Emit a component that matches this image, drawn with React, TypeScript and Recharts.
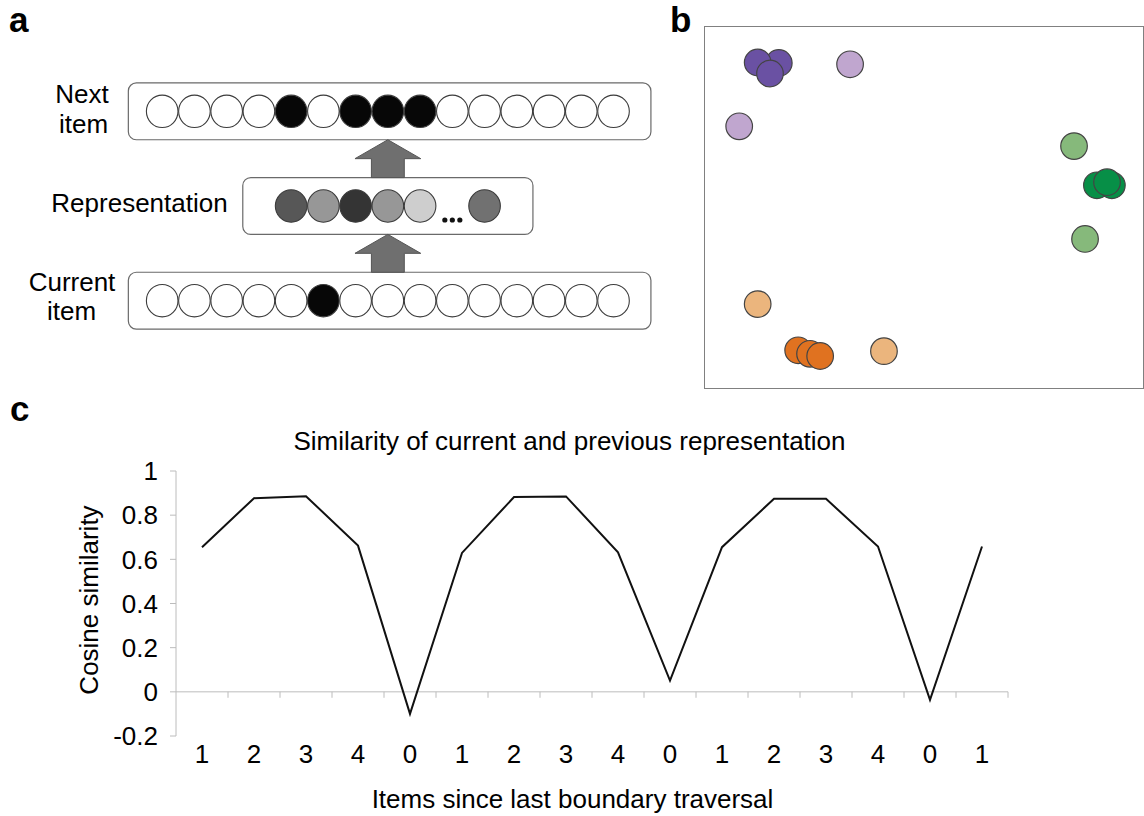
import React from 'react';
import {
  Line,
  LineChart,
  ReferenceArea,
  ReferenceLine,
  Scatter,
  ScatterChart,
  XAxis,
  YAxis,
} from 'recharts';

const FONT = '"Liberation Sans", Arial, Helvetica, sans-serif';

// ---- panel a: network diagram (slot index on x, layer on y) ----
const nextItem = [0, 0, 0, 0, 1, 0, 1, 1, 1, 0, 0, 0, 0, 0, 0];
const currentItem = [0, 0, 0, 0, 0, 1, 0, 0, 0, 0, 0, 0, 0, 0, 0];
const repSlots = [4, 5, 6, 7, 8, 10];
const repShades = ['#575757', '#979797', '#343434', '#979797', '#cecece', '#717171'];
const ellipsisSlot = 9;
const LAYER_NEXT = 2;
const LAYER_REP = 1;
const LAYER_CUR = 0;
const arrowSlot = 7;

// ---- panel b: 2D embedding, six groups ----
const darkPurple = [
  { x: 17.0, y: 74.1 },
  { x: 12.2, y: 74.2 },
  { x: 15.0, y: 71.7 },
];
const lightPurple = [
  { x: 33.2, y: 73.8 },
  { x: 8.0, y: 59.7 },
];
const lightGreen = [
  { x: 84.1, y: 55.2 },
  { x: 86.6, y: 34.1 },
];
const darkGreen = [
  { x: 89.3, y: 46.3 },
  { x: 92.7, y: 46.3 },
  { x: 91.6, y: 47.0 },
];
const lightOrange = [
  { x: 12.2, y: 19.3 },
  { x: 40.9, y: 8.6 },
];
const darkOrange = [
  { x: 21.4, y: 8.8 },
  { x: 24.1, y: 8.0 },
  { x: 26.4, y: 7.5 },
];

// ---- panel c: cosine similarity ----
const xLabels = ['1', '2', '3', '4', '0', '1', '2', '3', '4', '0', '1', '2', '3', '4', '0', '1'];
const similarity = [
  0.655, 0.877, 0.886, 0.662, -0.1, 0.629, 0.882, 0.885, 0.632, 0.051, 0.655, 0.874, 0.874,
  0.658, -0.036, 0.658,
];
const yTicks = [-0.2, 0, 0.2, 0.4, 0.6, 0.8, 1];

const AXIS_GRAY = '#bcbcbc';

function Bead(props: any) {
  const { cx, cy, payload } = props;
  if (cx == null || cy == null) return null;
  return (
    <ellipse cx={cx} cy={cy} rx={15.8} ry={16.2} fill={payload.fill} stroke="#3c3c3c" strokeWidth={1.1} />
  );
}

function Ellipsis(props: any) {
  const { cx, cy } = props;
  if (cx == null || cy == null) return null;
  return (
    <g fill="#111">
      {[-7.5, 0, 7.5].map((d) => (
        <circle key={d} cx={cx + d} cy={cy + 14} r={2.6} />
      ))}
    </g>
  );
}

function Box(props: any) {
  const { x, y, width, height } = props;
  return <rect x={x} y={y} width={width} height={height} rx={8} ry={8} fill="none" stroke="#6a6a6a" strokeWidth={1.2} />;
}

function Arrow(props: any) {
  const { x, y, width, height } = props;
  const cx = x + width / 2;
  const sw = width / 4;
  const mid = y + height / 2;
  const pts = [
    [cx, y],
    [x + width, mid],
    [cx + sw, mid],
    [cx + sw, y + height],
    [cx - sw, y + height],
    [cx - sw, mid],
    [x, mid],
  ]
    .map((p) => p.join(','))
    .join(' ');
  return <polygon points={pts} fill="#6f6f6f" stroke="#555" strokeWidth={1} />;
}

function Dot(props: any) {
  const { cx, cy, fill } = props;
  if (cx == null || cy == null) return null;
  return <circle cx={cx} cy={cy} r={13.3} fill={fill} stroke="#444" strokeWidth={1.2} />;
}

function DiagramPanel() {
  const nextData = nextItem.map((on, i) => ({ x: i, y: LAYER_NEXT, fill: on ? '#070707' : '#fff' }));
  const curData = currentItem.map((on, i) => ({ x: i, y: LAYER_CUR, fill: on ? '#070707' : '#fff' }));
  const repData = repSlots.map((s, i) => ({ x: s, y: LAYER_REP, fill: repShades[i] }));
  return (
    <ScatterChart width={677} height={284} margin={{ top: 0, right: 0, bottom: 0, left: 0 }}>
      <XAxis type="number" dataKey="x" domain={[-5, 16]} hide allowDataOverflow />
      <YAxis type="number" dataKey="y" domain={[-0.5, 2.5]} hide allowDataOverflow />
      <ReferenceArea x1={-1.05} x2={15.16} y1={LAYER_NEXT - 0.3} y2={LAYER_NEXT + 0.3} shape={Box} />
      <ReferenceArea x1={2.5} x2={11.5} y1={LAYER_REP - 0.3} y2={LAYER_REP + 0.3} shape={Box} />
      <ReferenceArea x1={-1.05} x2={15.16} y1={LAYER_CUR - 0.3} y2={LAYER_CUR + 0.3} shape={Box} />
      <ReferenceArea x1={arrowSlot - 1.02} x2={arrowSlot + 1.02} y1={LAYER_REP + 0.3} y2={LAYER_NEXT - 0.3} shape={Arrow} />
      <ReferenceArea x1={arrowSlot - 1.02} x2={arrowSlot + 1.02} y1={LAYER_CUR + 0.3} y2={LAYER_REP - 0.3} shape={Arrow} />
      <Scatter data={nextData} shape={Bead} isAnimationActive={false} />
      <Scatter data={repData} shape={Bead} isAnimationActive={false} />
      <Scatter data={curData} shape={Bead} isAnimationActive={false} />
      <Scatter data={[{ x: ellipsisSlot, y: LAYER_REP }]} shape={Ellipsis} isAnimationActive={false} />
    </ScatterChart>
  );
}

function EmbeddingPanel() {
  const groups = [
    { data: darkPurple, fill: '#6a51a3' },
    { data: lightPurple, fill: '#c0a6cf' },
    { data: lightGreen, fill: '#86b97b' },
    { data: darkGreen, fill: '#078f47' },
    { data: lightOrange, fill: '#ebb57d' },
    { data: darkOrange, fill: '#e07220' },
  ];
  return (
    <ScatterChart width={440} height={363} margin={{ top: 0, right: 0, bottom: 0, left: 0 }}>
      <XAxis type="number" dataKey="x" domain={[0, 100]} hide allowDataOverflow />
      <YAxis type="number" dataKey="y" domain={[0, 82.5]} hide allowDataOverflow />
      {groups.map((g, i) => (
        <Scatter key={i} data={g.data} fill={g.fill} shape={Dot} isAnimationActive={false} />
      ))}
    </ScatterChart>
  );
}

function SimilarityPanel() {
  const data = similarity.map((v, i) => ({ pos: i + 0.5, v }));
  const boundaries = xLabels.map((_, i) => i + 1);
  const tickStyle = { fontSize: 26, fill: '#000', fontFamily: FONT };
  return (
    <LineChart width={1144} height={416} data={data} margin={{ top: 71, right: 136, bottom: 50, left: 0 }}>
      <XAxis
        type="number"
        dataKey="pos"
        domain={[0, 16]}
        ticks={data.map((d) => d.pos)}
        tickFormatter={(v: number) => xLabels[Math.floor(v)]}
        interval={0}
        axisLine={false}
        tickLine={false}
        height={30}
        tickMargin={3}
        tick={tickStyle}
      />
      <YAxis
        type="number"
        domain={[-0.2, 1]}
        ticks={yTicks}
        interval={0}
        width={176}
        axisLine={{ stroke: AXIS_GRAY }}
        tickLine={{ stroke: AXIS_GRAY }}
        tickSize={6}
        tickMargin={12}
        tickFormatter={(v: number) => String(v)}
        tick={tickStyle}
      />
      <ReferenceLine y={0} stroke={AXIS_GRAY} />
      {boundaries.map((k) => (
        <ReferenceLine key={k} segment={[{ x: k, y: 0 }, { x: k, y: -0.027 }]} stroke={AXIS_GRAY} />
      ))}
      <Line type="linear" dataKey="v" stroke="#111" strokeWidth={2} dot={false} isAnimationActive={false} />
    </LineChart>
  );
}

export default function App() {
  return (
    <div style={{ position: 'absolute', left: 0, top: 0, width: 1144, height: 816, background: '#fff', overflow: 'hidden' }}>
      <div style={{ position: 'absolute', left: 1, top: 64 }}>
        <DiagramPanel />
      </div>
      <div
        style={{
          position: 'absolute',
          left: 704,
          top: 26,
          width: 440,
          height: 363,
          boxSizing: 'border-box',
          border: '1.5px solid #808080',
        }}
      />
      <div style={{ position: 'absolute', left: 704, top: 26 }}>
        <EmbeddingPanel />
      </div>
      <div style={{ position: 'absolute', left: 0, top: 400 }}>
        <SimilarityPanel />
      </div>
      <svg
        width={1144}
        height={816}
        style={{ position: 'absolute', left: 0, top: 0, pointerEvents: 'none' }}
        fontFamily={FONT}
      >
        <g fontWeight="bold" fontSize={35} fill="#000">
          <text x={9} y={32}>a</text>
          <text x={670} y={32}>b</text>
          <text x={10} y={421}>c</text>
        </g>
        <g fontSize={26} fill="#000" textAnchor="middle">
          <text x={82} y={103}>Next</text>
          <text x={83.5} y={133}>item</text>
          <text x={139.5} y={212}>Representation</text>
          <text x={72} y={291}>Current</text>
          <text x={71.5} y={320}>item</text>
          <text x={569.5} y={450}>Similarity of current and previous representation</text>
          <text x={572.5} y={808}>Items since last boundary traversal</text>
          <text x={98} y={600} transform="rotate(-90 98 600)">Cosine similarity</text>
        </g>
      </svg>
    </div>
  );
}
